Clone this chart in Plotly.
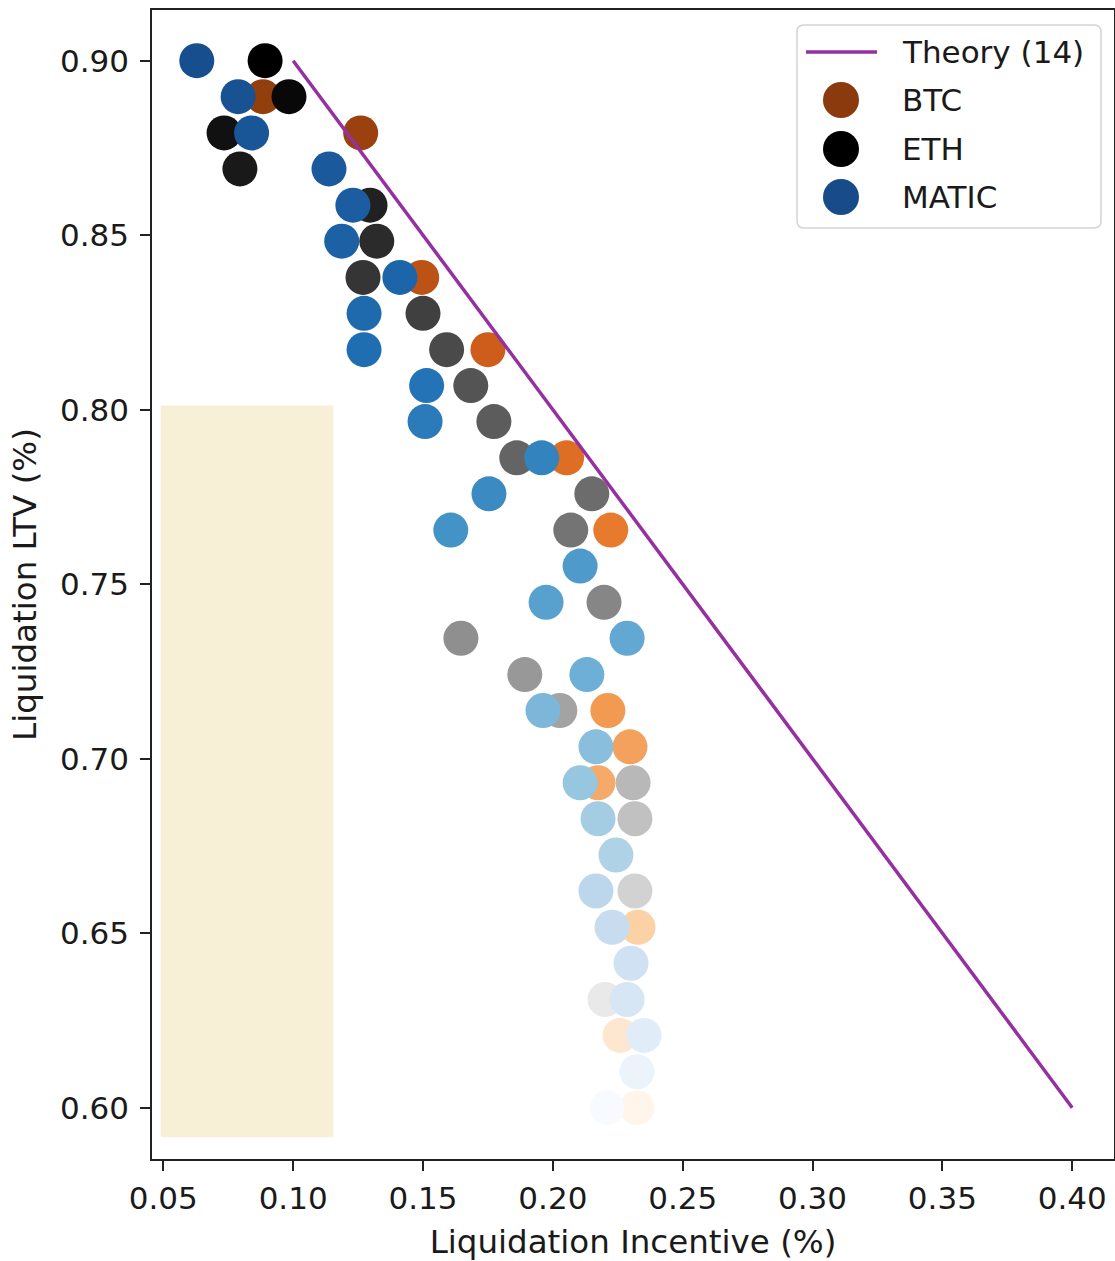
import plotly.graph_objects as go

# ---------------- data ----------------
LTV_LEVELS = [0.9000, 0.8897, 0.8793, 0.8690, 0.8586, 0.8483, 0.8379, 0.8276,
              0.8172, 0.8069, 0.7966, 0.7862, 0.7759, 0.7655, 0.7552, 0.7448,
              0.7345, 0.7241, 0.7138, 0.7034, 0.6931, 0.6828, 0.6724, 0.6621,
              0.6517, 0.6414, 0.6310, 0.6207, 0.6103, 0.6000]

BTC_INCENTIVE = [None, 0.0884, 0.1260, None, None, None, 0.1495, None,
                 0.1750, None, None, 0.2053, None, 0.2223, None, None,
                 None, None, 0.2212, 0.2297, 0.2174, None, None, None,
                 0.2328, None, None, 0.2259, None, 0.2324]

ETH_INCENTIVE = [0.0892, 0.0984, 0.0734, 0.0795, 0.1296, 0.1322, 0.1269, 0.1500,
                 0.1591, 0.1684, 0.1773, 0.1861, 0.2150, 0.2069, None, 0.2197,
                 0.1646, 0.1892, 0.2027, None, 0.2309, 0.2316, None, 0.2316,
                 None, None, 0.2201, None, None, None]

MATIC_INCENTIVE = [0.0629, 0.0788, 0.0840, 0.1138, 0.1230, 0.1187, 0.1411, 0.1273,
                   0.1273, 0.1514, 0.1508, 0.1957, 0.1754, 0.1607, 0.2105, 0.1974,
                   0.2286, 0.2131, 0.1962, 0.2166, 0.2105, 0.2174, 0.2243, 0.2166,
                   0.2228, 0.2301, 0.2286, 0.2351, 0.2324, 0.2209]

THEORY_X = [0.10, 0.40]
THEORY_Y = [0.90, 0.60]

SHADE_X = [0.049, 0.1155]
SHADE_Y = [0.5915, 0.8012]

X_TICKS = [0.05, 0.10, 0.15, 0.20, 0.25, 0.30, 0.35, 0.40]
Y_TICKS = [0.60, 0.65, 0.70, 0.75, 0.80, 0.85, 0.90]

# ---------------- styles ----------------
FONT = "DejaVu Sans"
FS = 31
FS_TITLE = 32.5
TXT = "#1a1a1a"
PURPLE = "#9430a0"

BLUES = ["#f7fbff", "#deebf7", "#c6dbef", "#9ecae1", "#6baed6",
         "#4292c6", "#2171b5", "#1b5fa2", "#174e8e"]
GREYS = ["#ffffff", "#f0f0f0", "#d9d9d9", "#bdbdbd", "#969696",
         "#737373", "#525252", "#252525", "#000000"]
ORANGES = ["#fff5eb", "#fde6cf", "#fbd0a4", "#f6ae70", "#f08f44",
           "#e8792c", "#d4601c", "#b04a12", "#8a3a0c"]


def scale(colors):
    n = len(colors) - 1
    return [[(i / n) ** 1.25, c] for i, c in enumerate(colors)]


W, H = 1115, 1261
ML, MR, MT, MB = 152, 1, 10, 102
PW = W - ML - MR
PH = H - MT - MB


def xp(px):
    return (px - ML) / PW


def yp(py):
    return (H - MB - py) / PH


fig = go.Figure()

series = [("BTC", BTC_INCENTIVE, ORANGES),
          ("ETH", ETH_INCENTIVE, GREYS),
          ("MATIC", MATIC_INCENTIVE, BLUES)]

for name, xs, cols in series:
    fig.add_trace(go.Scatter(
        x=xs, y=LTV_LEVELS, mode="markers", name=name, showlegend=False,
        marker=dict(size=35, color=LTV_LEVELS, colorscale=scale(cols),
                    cmin=0.60, cmax=0.90, line=dict(width=0)),
        hoverinfo="x+y+name"))

fig.add_trace(go.Scatter(x=THEORY_X, y=THEORY_Y, mode="lines",
                         name="Theory (14)", showlegend=False,
                         line=dict(color=PURPLE, width=3.5)))

shapes = [dict(type="rect", xref="x", yref="y", x0=SHADE_X[0], x1=SHADE_X[1],
               y0=SHADE_Y[0], y1=SHADE_Y[1], fillcolor="#f8f0d6",
               line=dict(width=0), layer="below")]

# custom legend (rounded box)
bx0, bx1, by0, by1 = 797, 1101, 25, 228
r = 7
rx, ry = r / PW, r / PH
X0, X1, Y0, Y1 = xp(bx0), xp(bx1), yp(by1), yp(by0)
path = (f"M {X0+rx},{Y0} L {X1-rx},{Y0} Q {X1},{Y0} {X1},{Y0+ry} "
        f"L {X1},{Y1-ry} Q {X1},{Y1} {X1-rx},{Y1} L {X0+rx},{Y1} "
        f"Q {X0},{Y1} {X0},{Y1-ry} L {X0},{Y0+ry} Q {X0},{Y0} {X0+rx},{Y0} Z")
shapes.append(dict(type="path", xref="paper", yref="paper", path=path,
                   fillcolor="rgba(255,255,255,0.85)",
                   line=dict(color="#d4d4d4", width=1.5), layer="above"))
shapes.append(dict(type="line", xref="paper", yref="paper",
                   x0=xp(806), x1=xp(877), y0=yp(52), y1=yp(52),
                   line=dict(color=PURPLE, width=3.5), layer="above"))

legend_items = [("BTC", "#8a3a0c", 100), ("ETH", "#000000", 149), ("MATIC", "#174b89", 197)]
annotations = [dict(text="Theory (14)", xref="paper", yref="paper",
                    x=xp(900), y=yp(52), xanchor="left", yanchor="middle",
                    showarrow=False, font=dict(family=FONT, size=FS, color=TXT))]
for lab, col, cy in legend_items:
    shapes.append(dict(type="circle", xref="paper", yref="paper",
                       x0=xp(841 - 18), x1=xp(841 + 18), y0=yp(cy + 18), y1=yp(cy - 18),
                       fillcolor=col, line=dict(width=0), layer="above"))
    annotations.append(dict(text=lab, xref="paper", yref="paper",
                            x=xp(900), y=yp(cy), xanchor="left", yanchor="middle",
                            showarrow=False, font=dict(family=FONT, size=FS, color=TXT)))

axis_common = dict(showgrid=False, zeroline=False, showline=True, mirror=True,
                   linecolor="#222222", linewidth=1.6, ticks="outside", ticklen=10,
                   tickwidth=1.6, tickcolor="#222222", automargin=False,
                   tickfont=dict(family=FONT, size=FS, color=TXT))

fig.update_layout(
    width=W, height=H,
    margin=dict(l=ML, r=MR, t=MT, b=MB),
    paper_bgcolor="white", plot_bgcolor="white",
    showlegend=False,
    shapes=shapes, annotations=annotations,
    xaxis=dict(range=[0.045649, 0.41608], tickvals=X_TICKS,
               ticktext=[f"{v:.2f}" for v in X_TICKS], ticklabelstandoff=1,
               title=dict(text="Liquidation Incentive (%)", standoff=16,
                          font=dict(family=FONT, size=FS_TITLE, color=TXT)),
               **axis_common),
    yaxis=dict(range=[0.585298, 0.914527], tickvals=Y_TICKS,
               ticktext=[f"{v:.2f}" for v in Y_TICKS], ticklabelstandoff=5,
               title=dict(text="Liquidation LTV (%)", standoff=14,
                          font=dict(family=FONT, size=FS_TITLE, color=TXT)),
               **axis_common),
)

# remove the default 8px page margin so the figure fills the window exactly
fig.write_html("out.html",
               config={"displayModeBar": False},
               post_script="document.body.style.margin='0';"
                           "document.body.style.overflow='hidden';")
